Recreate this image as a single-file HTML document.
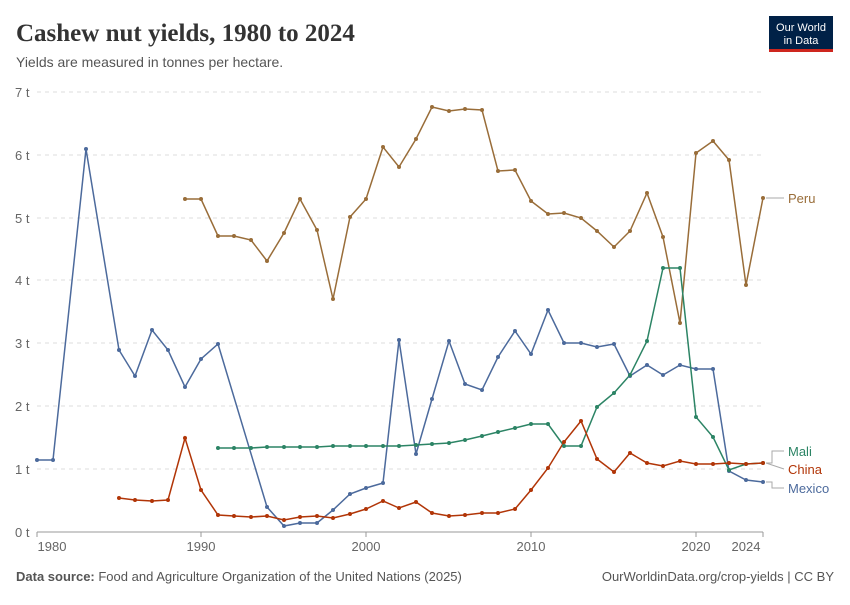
<!DOCTYPE html>
<html><head><meta charset="utf-8"><style>
body{margin:0;background:#fff;font-family:"Liberation Sans",sans-serif}
</style></head><body>
<svg id="s" width="850" height="600" xmlns="http://www.w3.org/2000/svg" font-family="Liberation Sans, sans-serif">
<rect width="850" height="600" fill="#fff"/>
<text x="16" y="41" font-family="Liberation Serif, serif" font-size="25" font-weight="bold" fill="#333">Cashew nut yields, 1980 to 2024</text>
<text x="16" y="67" font-size="14" fill="#555">Yields are measured in tonnes per hectare.</text>
<rect x="769" y="16" width="64" height="36" fill="#002147"/>
<rect x="769" y="49" width="64" height="3" fill="#ce261e"/>
<text x="801" y="31" font-size="11" fill="#fff" text-anchor="middle">Our World</text>
<text x="801" y="44" font-size="11" fill="#fff" text-anchor="middle">in Data</text>
<g stroke="#ddd" stroke-dasharray="4,4">
<line x1="37" x2="763" y1="92" y2="92"/><line x1="37" x2="763" y1="155" y2="155"/><line x1="37" x2="763" y1="218" y2="218"/><line x1="37" x2="763" y1="280" y2="280"/><line x1="37" x2="763" y1="343" y2="343"/><line x1="37" x2="763" y1="406" y2="406"/><line x1="37" x2="763" y1="469" y2="469"/>
</g>
<line x1="37" x2="763" y1="532" y2="532" stroke="#999"/>
<g stroke="#999"><line x1="37" x2="37" y1="532" y2="537"/><line x1="201" x2="201" y1="532" y2="537"/><line x1="366" x2="366" y1="532" y2="537"/><line x1="531" x2="531" y1="532" y2="537"/><line x1="696" x2="696" y1="532" y2="537"/><line x1="763" x2="763" y1="532" y2="537"/></g>
<g font-size="13" fill="#666">
<text x="15" y="97">7 t</text><text x="15" y="160">6 t</text><text x="15" y="223">5 t</text><text x="15" y="285">4 t</text><text x="15" y="348">3 t</text><text x="15" y="411">2 t</text><text x="15" y="474">1 t</text><text x="15" y="537">0 t</text>
<g text-anchor="middle"><text x="52" y="551">1980</text><text x="201" y="551">1990</text><text x="366" y="551">2000</text><text x="531" y="551">2010</text><text x="696" y="551">2020</text><text x="746" y="551">2024</text></g>
</g>
<g fill="none" stroke-width="1.5" id="lines">
<polyline stroke="#4c6a9c" points="37,460 53,460 86,149 119,350 135,376 152,330 168,350 185,387 201,359 218,344 267,507 284,526 300,523 317,523 333,510 350,494 366,488 383,483 399,340 416,454 432,399 449,341 465,384 482,390 498,357 515,331 531,354 548,310 564,343 581,343 597,347 614,344 630,376 647,365 663,375 680,365 696,369 713,369 729,471 746,480 763,482"/>
<polyline stroke="#996d39" points="185,199 201,199 218,236 234,236 251,240 267,261 284,233 300,199 317,230 333,299 350,217 366,199 383,147 399,167 416,139 432,107 449,111 465,109 482,110 498,171 515,170 531,201 548,214 564,213 581,218 597,231 614,247 630,231 647,193 663,237 680,323 696,153 713,141 729,160 746,285 763,198"/>
<polyline stroke="#2c8465" points="218,448 234,448 251,448 267,447 284,447 300,447 317,447 333,446 350,446 366,446 383,446 399,446 416,445 432,444 449,443 465,440 482,436 498,432 515,428 531,424 548,424 564,446 581,446 597,407 614,393 630,375 647,341 663,268 680,268 696,417 713,437 729,470 746,464 763,463"/>
<polyline stroke="#b13507" points="119,498 135,500 152,501 168,500 185,438 201,490 218,515 234,516 251,517 267,516 284,520 300,517 317,516 333,518 350,514 366,509 383,501 399,508 416,502 432,513 449,516 465,515 482,513 498,513 515,509 531,490 548,468 564,442 581,421 597,459 614,472 630,453 647,463 663,466 680,461 696,464 713,464 729,463 746,464 763,463"/>
</g>
<g id="dots"></g>
<g stroke="#aaa" fill="none"><polyline points="766,198 784,198"/><polyline points="766,463 772,463 772,451 784,451"/><polyline points="766,463 784,469"/><polyline points="766,482 772,482 772,488 784,488"/></g>
<g font-size="13"><text x="788" y="203" fill="#996d39">Peru</text><text x="788" y="456" fill="#2c8465">Mali</text><text x="788" y="474" fill="#b13507">China</text><text x="788" y="493" fill="#4c6a9c">Mexico</text></g>
<text x="16" y="581" font-size="13" fill="#555"><tspan font-weight="bold">Data source:</tspan> Food and Agriculture Organization of the United Nations (2025)</text>
<text x="834" y="581" font-size="13" fill="#555" text-anchor="end">OurWorldinData.org/crop-yields | CC BY</text>
</svg>
<script>
var ns="http://www.w3.org/2000/svg",d=document.getElementById("dots");
document.querySelectorAll("#lines polyline").forEach(function(p){
 var c=p.getAttribute("stroke");
 p.getAttribute("points").trim().split(/\s+/).forEach(function(pt){
  var xy=pt.split(","),e=document.createElementNS(ns,"circle");
  e.setAttribute("cx",xy[0]);e.setAttribute("cy",xy[1]);e.setAttribute("r","2");e.setAttribute("fill",c);d.appendChild(e);
 });
});
</script>
</body></html>
